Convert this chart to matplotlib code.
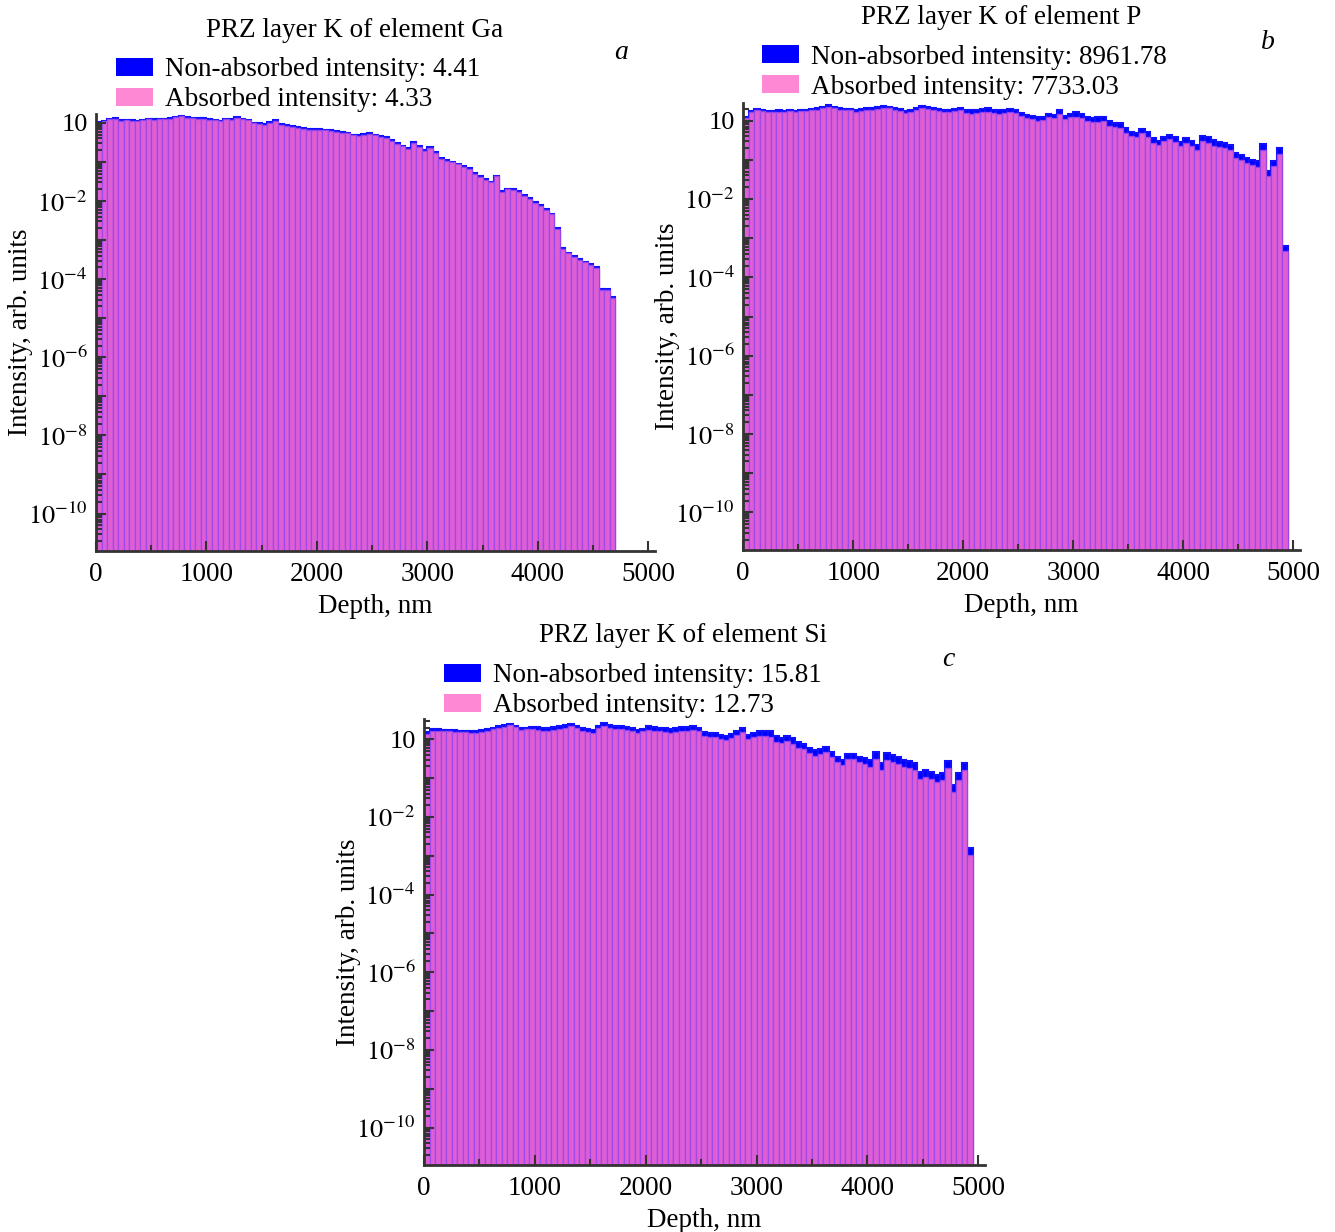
import numpy as np
import matplotlib
matplotlib.use('Agg')
import matplotlib.pyplot as plt
from matplotlib.patches import Patch
from matplotlib.ticker import FixedLocator, FuncFormatter, MultipleLocator, NullFormatter

plt.rcParams['font.family'] = ['Liberation Serif', 'DejaVu Serif']
plt.rcParams['mathtext.fontset'] = 'stix'
plt.rcParams['font.size'] = 20

BIN = 50  # nm, histogram bin width

# log10 of intensity per depth bin
ga_nonabs = [0.02, 0.06, 0.10, 0.12, 0.07, 0.08, 0.07, 0.06, 0.08, 0.11,
             0.09, 0.10, 0.10, 0.12, 0.15, 0.18, 0.14, 0.13, 0.12, 0.12,
             0.09, 0.08, 0.05, 0.10, 0.09, 0.14, 0.11, 0.08, 0.01, -0.01,
             -0.03, 0.02, 0.08, -0.03, -0.06, -0.09, -0.11, -0.14, -0.15, -0.15,
             -0.16, -0.17, -0.18, -0.20, -0.23, -0.25, -0.30, -0.31, -0.28, -0.26,
             -0.30, -0.33, -0.37, -0.44, -0.52, -0.58, -0.64, -0.50, -0.59, -0.70,
             -0.61, -0.75, -0.90, -0.95, -0.99, -1.04, -1.10, -1.15, -1.29, -1.36,
             -1.44, -1.50, -1.35, -1.74, -1.68, -1.70, -1.74, -1.84, -1.93, -2.02,
             -2.11, -2.20, -2.32, -2.70, -3.20, -3.32, -3.40, -3.48, -3.55, -3.62,
             -3.70, -4.25, -4.25, -4.45]
ga_abs = [0.01, 0.05, 0.09, 0.11, 0.06, 0.07, 0.06, 0.05, 0.07, 0.10,
          0.08, 0.09, 0.09, 0.11, 0.14, 0.17, 0.13, 0.12, 0.11, 0.11,
          0.08, 0.07, 0.04, 0.09, 0.08, 0.13, 0.10, 0.07, 0.00, -0.02,
          -0.05, 0.00, 0.06, -0.05, -0.08, -0.11, -0.13, -0.16, -0.17, -0.17,
          -0.18, -0.19, -0.20, -0.22, -0.25, -0.27, -0.32, -0.33, -0.30, -0.28,
          -0.32, -0.35, -0.39, -0.46, -0.54, -0.60, -0.66, -0.52, -0.61, -0.72,
          -0.63, -0.77, -0.92, -0.97, -1.01, -1.06, -1.12, -1.17, -1.31, -1.38,
          -1.46, -1.52, -1.37, -1.76, -1.70, -1.72, -1.76, -1.86, -1.95, -2.04,
          -2.13, -2.22, -2.34, -2.72, -3.22, -3.34, -3.42, -3.50, -3.57, -3.64,
          -3.72, -4.27, -4.27, -4.47]

p_nonabs = [0.10, 0.24, 0.30, 0.28, 0.25, 0.24, 0.26, 0.25, 0.27, 0.25,
            0.27, 0.28, 0.29, 0.31, 0.35, 0.39, 0.35, 0.31, 0.30, 0.29,
            0.28, 0.29, 0.31, 0.33, 0.34, 0.38, 0.36, 0.31, 0.29, 0.25,
            0.26, 0.33, 0.38, 0.34, 0.32, 0.30, 0.27, 0.26, 0.29, 0.31,
            0.28, 0.26, 0.27, 0.30, 0.31, 0.28, 0.26, 0.27, 0.29, 0.28,
            0.20, 0.15, 0.12, 0.08, 0.10, 0.16, 0.14, 0.26, 0.12, 0.16,
            0.21, 0.17, 0.10, 0.07, 0.08, 0.09, -0.02, -0.06, -0.07, -0.20,
            -0.29, -0.31, -0.21, -0.30, -0.45, -0.52, -0.41, -0.37, -0.43, -0.55,
            -0.44, -0.52, -0.61, -0.38, -0.42, -0.50, -0.54, -0.57, -0.61, -0.82,
            -0.87, -0.95, -1.00, -1.04, -0.60, -1.28, -1.02, -0.70, -3.20]
p_abs = [0.07, 0.21, 0.27, 0.25, 0.22, 0.21, 0.23, 0.22, 0.24, 0.22,
         0.24, 0.25, 0.26, 0.28, 0.32, 0.36, 0.32, 0.28, 0.27, 0.26,
         0.23, 0.24, 0.26, 0.28, 0.29, 0.33, 0.31, 0.26, 0.24, 0.20,
         0.21, 0.28, 0.33, 0.29, 0.27, 0.25, 0.22, 0.21, 0.24, 0.26,
         0.20, 0.18, 0.19, 0.22, 0.23, 0.20, 0.18, 0.19, 0.21, 0.20,
         0.12, 0.07, 0.04, 0.00, 0.02, 0.08, 0.06, 0.18, 0.04, 0.08,
         0.10, 0.06, -0.01, -0.04, -0.03, -0.02, -0.13, -0.17, -0.18, -0.31,
         -0.40, -0.42, -0.32, -0.41, -0.56, -0.63, -0.52, -0.48, -0.54, -0.66,
         -0.58, -0.66, -0.75, -0.52, -0.56, -0.64, -0.68, -0.71, -0.75, -0.96,
         -1.01, -1.09, -1.14, -1.18, -0.74, -1.42, -1.16, -0.84, -3.34]

si_nonabs = [0.18, 0.26, 0.25, 0.24, 0.24, 0.23, 0.22, 0.22, 0.21, 0.20,
             0.23, 0.26, 0.30, 0.33, 0.36, 0.40, 0.35, 0.28, 0.30, 0.31,
             0.31, 0.29, 0.28, 0.31, 0.33, 0.37, 0.40, 0.35, 0.28, 0.25,
             0.24, 0.35, 0.41, 0.37, 0.34, 0.33, 0.31, 0.28, 0.23, 0.27,
             0.33, 0.31, 0.30, 0.28, 0.27, 0.28, 0.31, 0.32, 0.34, 0.30,
             0.18, 0.15, 0.15, 0.10, 0.07, 0.14, 0.22, 0.28, 0.11, 0.16,
             0.22, 0.21, 0.20, 0.08, 0.03, 0.09, 0.02, -0.08, -0.12, -0.22,
             -0.28, -0.24, -0.19, -0.33, -0.45, -0.53, -0.38, -0.37, -0.45, -0.49,
             -0.53, -0.32, -0.62, -0.36, -0.41, -0.47, -0.53, -0.56, -0.60, -0.84,
             -0.79, -0.85, -0.92, -0.88, -0.55, -1.18, -0.88, -0.62, -2.80]
si_abs = [0.14, 0.22, 0.21, 0.20, 0.20, 0.19, 0.18, 0.18, 0.17, 0.16,
          0.19, 0.22, 0.26, 0.29, 0.32, 0.36, 0.31, 0.24, 0.26, 0.27,
          0.24, 0.22, 0.21, 0.24, 0.26, 0.30, 0.33, 0.28, 0.21, 0.18,
          0.17, 0.28, 0.34, 0.30, 0.27, 0.26, 0.24, 0.21, 0.16, 0.20,
          0.23, 0.21, 0.20, 0.18, 0.17, 0.18, 0.21, 0.22, 0.24, 0.20,
          0.08, 0.05, 0.05, 0.00, -0.03, 0.04, 0.12, 0.18, 0.01, 0.06,
          0.08, 0.07, 0.06, -0.06, -0.11, -0.05, -0.12, -0.22, -0.26, -0.36,
          -0.42, -0.38, -0.33, -0.47, -0.59, -0.67, -0.52, -0.51, -0.59, -0.63,
          -0.71, -0.50, -0.80, -0.54, -0.59, -0.65, -0.71, -0.74, -0.78, -1.02,
          -0.97, -1.03, -1.10, -1.06, -0.73, -1.36, -1.06, -0.80, -2.98]

elements = ['Ga', 'P', 'Si']
nonabs_total = ['4.41', '8961.78', '15.81']
abs_total = ['4.33', '7733.03', '12.73']
letters = ['a', 'b', 'c']

fig = plt.figure(figsize=(13.35, 12.32), dpi=100)

# axes boxes in figure fraction
boxes = [[0.0719, 0.5528, 0.4187, 0.3547],
         [0.5566, 0.5536, 0.4172, 0.3628],
         [0.3176, 0.0544, 0.4202, 0.3620]]
ytops = [10**0.23, 10**0.45, 10**0.52]
title_pos = [(0.2659, 0.9750), (0.7498, 0.9854), (0.5116, 0.4838)]
legend_pos = [(0.0869, 0.9535), (0.5708, 0.9635), (0.3326, 0.4615)]
letter_pos = [(0.4652, 0.957), (0.9498, 0.9659), (0.7101, 0.4643)]
series = [(ga_nonabs, ga_abs), (p_nonabs, p_abs), (si_nonabs, si_abs)]


def ylab(v, pos):
    e = int(round(np.log10(v)))
    if e == 0:
        return '10'
    if e % 2:
        return ''
    return r'$10^{%d}$' % e


for k in range(3):
    ax = fig.add_axes(boxes[k])
    nonabs, absd = series[k]
    x = np.arange(len(nonabs)) * BIN
    ax.bar(x, 10.0 ** np.array(nonabs), width=BIN, align='edge',
           color='#0000ff', edgecolor='#1010ff', linewidth=1.5, zorder=1)
    ax.bar(x, 10.0 ** np.array(absd), width=BIN, align='edge',
           color='#ff6ccf', edgecolor='#9a48ec', linewidth=1.0, alpha=0.88, zorder=1.2)
    ax.set_axisbelow(False)
    ax.set_yscale('log')
    ax.set_ylim(1.1e-11, ytops[k])
    ax.set_xlim(0, 5060)

    ax.yaxis.set_major_locator(FixedLocator([10.0 ** e for e in range(-11, 1)]))
    ax.yaxis.set_major_formatter(FuncFormatter(ylab))
    minors = [m * 10.0 ** e for e in range(-12, 1) for m in range(2, 10)]
    ax.yaxis.set_minor_locator(FixedLocator(minors))
    ax.yaxis.set_minor_formatter(NullFormatter())
    ax.xaxis.set_major_locator(MultipleLocator(1000))
    ax.xaxis.set_minor_locator(MultipleLocator(500))

    ax.tick_params(which='both', direction='in', color='#333333', width=1.5, labelsize=19.5)
    ax.tick_params(axis='y', labelsize=19)
    ax.tick_params(which='major', length=7, pad=8)
    ax.tick_params(axis='y', which='major', pad=6)
    ax.tick_params(which='minor', length=4)
    for s in ['top', 'right']:
        ax.spines[s].set_visible(False)
    for s in ['left', 'bottom']:
        ax.spines[s].set_color('#333333')
        ax.spines[s].set_linewidth(2)
        ax.spines[s].set_zorder(3)

    ax.set_xlabel('Depth, nm', fontsize=19.5, labelpad=5)
    ax.set_ylabel('Intensity, arb. units', fontsize=19.5)
    ax.yaxis.set_label_coords(-0.113, 0.5)

    fig.text(title_pos[k][0], title_pos[k][1], 'PRZ layer K of element ' + elements[k],
             ha='center', va='center', fontsize=19.5)
    fig.text(letter_pos[k][0], letter_pos[k][1], letters[k], style='italic',
             ha='center', va='center', fontsize=20)
    handles = [Patch(facecolor='#0000ff', edgecolor='none'),
               Patch(facecolor='#ff88d4', edgecolor='none')]
    fig.legend(handles=handles,
               labels=['Non-absorbed intensity: ' + nonabs_total[k],
                       'Absorbed intensity: ' + abs_total[k]],
               loc='upper left', bbox_to_anchor=legend_pos[k],
               frameon=False, fontsize=19.5, handlelength=1.35, handleheight=0.65,
               handletextpad=0.45, labelspacing=0.18, borderpad=0, borderaxespad=0)

fig.savefig('out.png', dpi=100)
